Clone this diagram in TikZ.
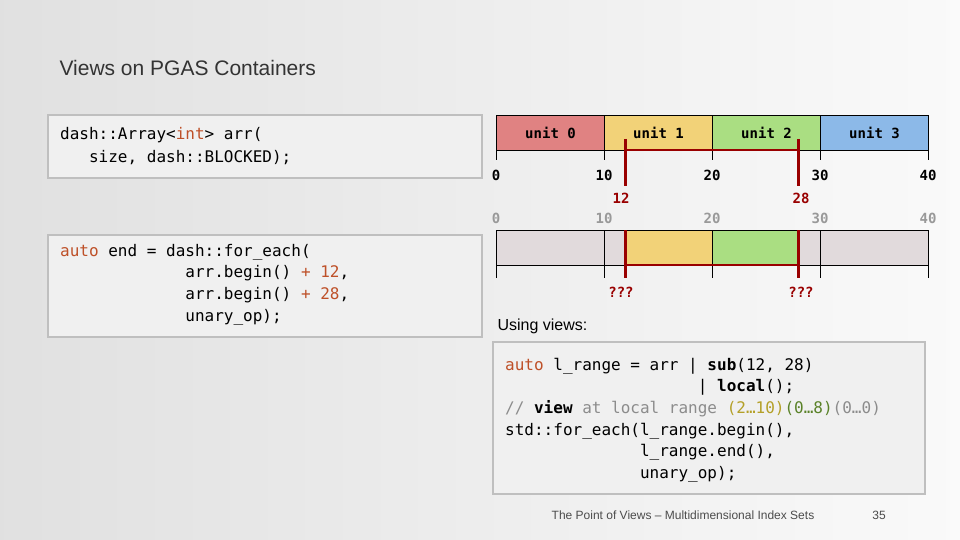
\documentclass[tikz,border=0pt]{standalone}
\usepackage{fontspec}
\setmainfont{Liberation Sans}
\setmonofont{DejaVu Sans Mono}
\begin{document}
\begin{tikzpicture}[x=1pt,y=-1pt,
  codebox/.style={draw=black!25,line width=1.5pt,fill=black!6},
  ubox/.style={draw=black,line width=1pt,minimum width=108pt,minimum height=35pt,inner sep=0pt,anchor=north west,font=\ttfamily\bfseries\fontsize{14}{16}\selectfont},
  tick/.style={font=\ttfamily\bfseries\fontsize{14}{16}\selectfont},
  redl/.style={draw=red!60!black,line width=2.5pt},
  codel/.style={anchor=west,font=\ttfamily\fontsize{16}{18}\selectfont,inner sep=0pt}]
\definecolor{kw}{RGB}{190,80,40}
\definecolor{cm}{RGB}{140,140,140}
\definecolor{ylw}{RGB}{180,160,40}
\definecolor{grn}{RGB}{90,130,40}
\definecolor{c0}{RGB}{224,130,130}
\definecolor{c1}{RGB}{242,210,120}
\definecolor{c2}{RGB}{170,222,130}
\definecolor{c3}{RGB}{140,185,232}
\definecolor{gr}{RGB}{225,218,220}
\shade[left color=black!12,right color=black!2] (0,0) rectangle (960,540);
\useasboundingbox (0,0) rectangle (960,540);
\node[anchor=west,font=\fontsize{21}{24}\selectfont,text=black!80] (title) at (56,68) {Views on PGAS Containers};
% left boxes
\draw[codebox] (48,115) rectangle (482,178);
\node[codel] (l1) at (60,135) {dash::Array<\textcolor{kw}{int}> arr(};
\node[codel] (l2) at (60,158) {\ \ \ size, dash::BLOCKED);};
\draw[codebox] (48,235) rectangle (482,337);
\node[codel] (m1) at (60,252) {\textcolor{kw}{auto} end = dash::for\_each(};
\node[codel] (m2) at (60,273) {\ \ \ \ \ \ \ \ \ \ \ \ \ arr.begin() \textcolor{kw}{+} \textcolor{kw}{12},};
\node[codel] (m3) at (60,295) {\ \ \ \ \ \ \ \ \ \ \ \ \ arr.begin() \textcolor{kw}{+} \textcolor{kw}{28},};
\node[codel] (m4) at (60,317) {\ \ \ \ \ \ \ \ \ \ \ \ \ unary\_op);};
% top bar
\node[ubox,fill=c0] (u0) at (496,115) {unit 0};
\node[ubox,fill=c1] (u1) at (604,115) {unit 1};
\node[ubox,fill=c2] (u2) at (712,115) {unit 2};
\node[ubox,fill=c3] (u3) at (820,115) {unit 3};
\foreach \i/\v in {0/0,1/10,2/20,3/30,4/40}{
  \draw[line width=1pt] (496+108*\i,150) -- (496+108*\i,160);
  \node[tick] (t\i) at (496+108*\i,175) {\v};
  \node[tick,text=black!40] (g\i) at (496+108*\i,218) {\v};
  \draw[line width=1pt] (496+108*\i,265) -- (496+108*\i,278);
}
\draw[redl] (625.6,139) -- (625.6,186);
\draw[redl] (798.4,139) -- (798.4,186);
\draw[redl] (625.6,150) -- (798.4,150);
\node[tick,text=red!60!black] (r12) at (621,198) {12};
\node[tick,text=red!60!black] (r28) at (801,198) {28};
% bottom bar
\node[ubox,fill=gr] (b0) at (496,230) {};
\node[ubox,fill=gr] (b1) at (604,230) {};
\node[ubox,fill=gr] (b2) at (712,230) {};
\node[ubox,fill=gr] (b3) at (820,230) {};
\fill[c1] (625.6,230.5) rectangle (712,264.5);
\fill[c2] (712,230.5) rectangle (798.4,264.5);
\draw[line width=1pt] (712,230) -- (712,265);
\draw[redl] (625.6,230) -- (625.6,278);
\draw[redl] (798.4,230) -- (798.4,278);
\draw[redl] (625.6,265) -- (798.4,265);
\node[tick,text=red!60!black] (q1) at (621,292) {???};
\node[tick,text=red!60!black] (q2) at (801,292) {???};
\node[anchor=west,font=\fontsize{16}{18}\selectfont] (uv) at (494,326) {Using views:};
% code box
\draw[codebox] (493,342) rectangle (925,494);
\node[codel] (c1l) at (505,366) {\textcolor{kw}{auto} l\_range = arr | \textbf{sub}(12, 28)};
\node[codel] (c2l) at (505,387) {\ \ \ \ \ \ \ \ \ \ \ \ \ \ \ \ \ \ \ \ | \textbf{local}();};
\node[codel] (c3l) at (505,409) {\textcolor{cm}{// \textcolor{black}{\textbf{view}} at local range \textcolor{ylw}{(2…10)}\textcolor{grn}{(0…8)}(0…0)}};
\node[codel] (c4l) at (505,431) {std::for\_each(l\_range.begin(),};
\node[codel] (c5l) at (505,452) {\ \ \ \ \ \ \ \ \ \ \ \ \ \ l\_range.end(),};
\node[codel] (c6l) at (505,474) {\ \ \ \ \ \ \ \ \ \ \ \ \ \ unary\_op);};
\node[font=\fontsize{12}{14}\selectfont,text=black!70] (foot) at (683,515) {The Point of Views – Multidimensional Index Sets};
\node[font=\fontsize{12}{14}\selectfont,text=black!70] (pg) at (879,515) {35};
\end{tikzpicture}
\end{document}
